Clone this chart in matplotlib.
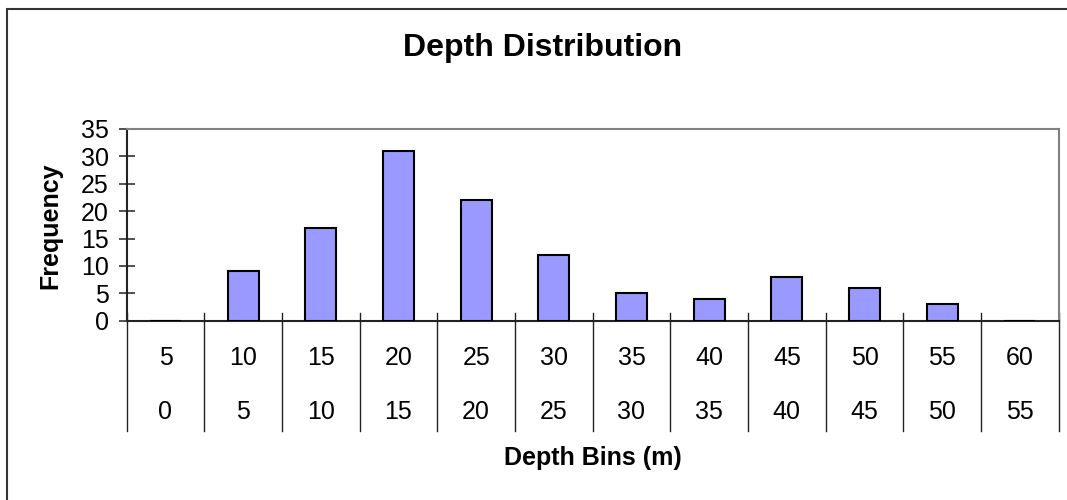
import matplotlib
matplotlib.use("Agg")
import matplotlib.pyplot as plt
import matplotlib.transforms as mtransforms
from matplotlib.patches import Rectangle
from matplotlib.lines import Line2D

plt.rcParams['font.family'] = ['Liberation Sans', 'DejaVu Sans']

# Histogram of depths, 5 m bins
bin_upper = ['5', '10', '15', '20', '25', '30', '35', '40', '45', '50', '55', '60']
bin_lower = ['0', '5', '10', '15', '20', '25', '30', '35', '40', '45', '50', '55']
counts = [0, 9, 17, 31, 22, 12, 5, 4, 8, 6, 3, 0]

fig = plt.figure(figsize=(10.67, 5), dpi=100)
ax = fig.add_axes([0.1187, 0.3586, 0.8735, 0.3834])

x = list(range(len(counts)))
ax.bar(x, counts, width=0.4, color='#9999FF', edgecolor='black', linewidth=1.5, zorder=3)

ax.set_xlim(-0.5, len(counts) - 0.5)
ax.set_ylim(0, 35)
ax.set_yticks(range(0, 36, 5))
ax.tick_params(axis='y', direction='inout', length=12, width=1.2, pad=7,
               labelsize=18, color='#333333')
ax.set_xticks([])

ax.spines['left'].set_color('#222222')
ax.spines['left'].set_linewidth(1.5)
ax.spines['bottom'].set_color('#222222')
ax.spines['bottom'].set_linewidth(1.5)
ax.spines['top'].set_color('#808080')
ax.spines['top'].set_linewidth(1.5)
ax.spines['right'].set_color('#808080')
ax.spines['right'].set_linewidth(1.5)

# two-level category axis drawn under the plot
trans = mtransforms.blended_transform_factory(ax.transData, fig.transFigure)
for i in range(len(counts) + 1):
    ax.add_line(Line2D([i - 0.5, i - 0.5], [0.3746, 0.1386], transform=trans,
                       color='#222222', linewidth=1.0, clip_on=False))
for i in x:
    ax.text(i, 0.284, bin_upper[i], transform=trans, ha='center', va='center', fontsize=18)
    ax.text(i, 0.1766, bin_lower[i], transform=trans, ha='center', va='center', fontsize=18)

fig.text(0.5085, 0.904, 'Depth Distribution', ha='center', va='center',
         fontsize=23, fontweight='bold')
fig.text(0.047, 0.548, 'Frequency', ha='center', va='center', rotation=90,
         fontsize=18, fontweight='bold')
fig.text(0.5553, 0.084, 'Depth Bins (m)', ha='center', va='center',
         fontsize=18, fontweight='bold')

# chart border
fig.add_artist(Rectangle((6.5 / 1067, -0.1), 1.2, 1 - 8.5 / 500 + 0.1,
                         transform=fig.transFigure, fill=False,
                         edgecolor='#333333', linewidth=1.5))

fig.savefig('out.png', dpi=100)
